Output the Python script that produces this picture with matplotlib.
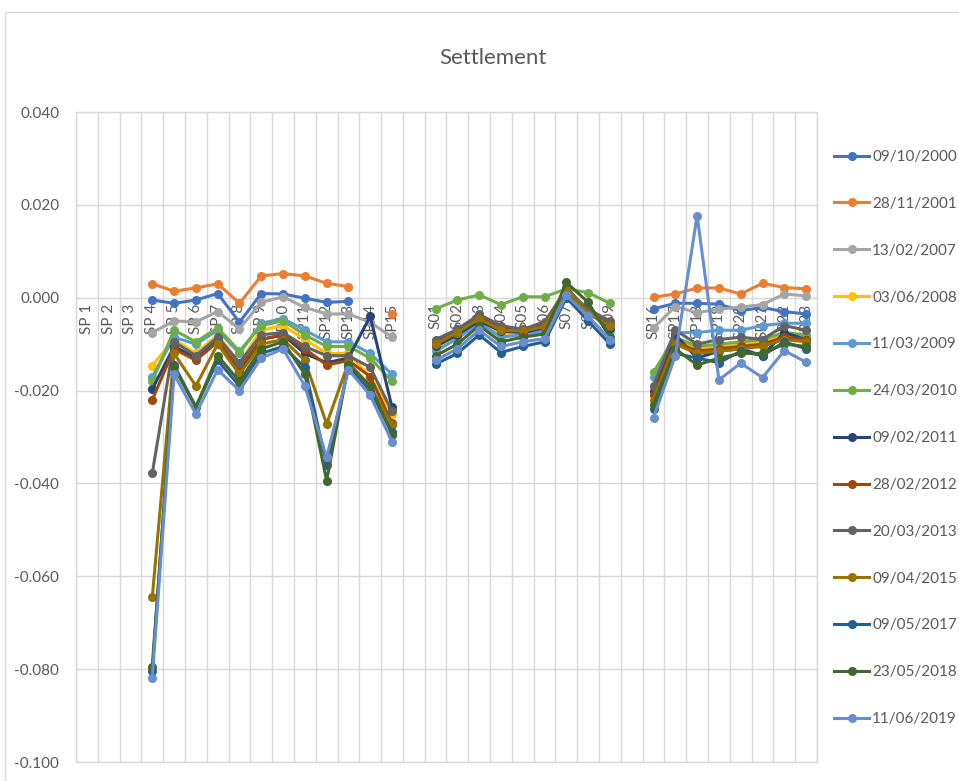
import numpy as np
import matplotlib
matplotlib.use('Agg')
import matplotlib.pyplot as plt
from matplotlib.patches import Rectangle
from matplotlib.ticker import FuncFormatter

plt.rcParams['font.family'] = ['Lato', 'DejaVu Sans']

# --- data ---
categories = ['SP 1', 'SP 2', 'SP 3', 'SP 4', 'SP 5', 'SP 6', 'SP 7', 'SP 8', 'SP 9',
              'SP10', 'SP11', 'SP12', 'SP13', 'SP14', 'SP15', '',
              'S01', 'S02', 'S03', 'S04', 'S05', 'S06', 'S07', 'S08', 'S09', '',
              'SP16', 'SP17', 'SP18', 'SP19', 'SP20', 'SP21', 'SP22', 'SP23']

dates = ['09/10/2000', '28/11/2001', '13/02/2007', '03/06/2008', '11/03/2009',
         '24/03/2010', '09/02/2011', '28/02/2012', '20/03/2013', '09/04/2015',
         '09/05/2017', '23/05/2018', '11/06/2019']

colors = ['#4472C4', '#ED7D31', '#A5A5A5', '#FFC000', '#5B9BD5', '#70AD47',
          '#264478', '#9E480E', '#636363', '#997300', '#255E91', '#43682B', '#698ED0']

n = None
s_2000 = [n, n, n, -0.0005, -0.0012, -0.0005, 0.0009, -0.0053, 0.0009, 0.0008, -0.0001, -0.0010, -0.0008, n, n, n,
          n, n, n, n, n, n, n, n, n, n,
          -0.0024, -0.0012, -0.0012, -0.0014, -0.0028, -0.0021, -0.0030, -0.0035]
s_2001 = [n, n, n, 0.0030, 0.0014, 0.0021, 0.0030, -0.0012, 0.0047, 0.0052, 0.0047, 0.0031, 0.0024, n, -0.0035, n,
          n, n, n, n, n, n, n, n, n, n,
          0.0001, 0.0008, 0.0021, 0.0021, 0.0008, 0.0031, 0.0022, 0.0019]
s_2007 = [n, n, n, -0.0075, -0.0050, -0.0052, -0.0030, -0.0067, -0.0010, 0.0002, -0.0021, -0.0035, -0.0035, -0.0053, -0.0085, n,
          n, n, n, n, n, n, n, n, n, n,
          -0.0065, -0.0019, -0.0032, -0.0025, -0.0020, -0.0015, 0.0008, 0.0004]
s_2008 = [n, n, n, -0.0146, -0.0090, -0.0120, -0.0080, -0.0140, -0.0070, -0.0060, -0.0090, -0.0120, -0.0120, -0.0170, -0.0250, n,
          -0.0110, -0.0082, -0.0052, -0.0078, -0.0078, -0.0068, 0.0010, -0.0030, -0.0068, n,
          -0.0190, -0.0090, -0.0110, -0.0105, -0.0100, -0.0095, -0.0080, -0.0085]
s_2009 = [n, n, n, -0.0170, -0.0085, -0.0100, -0.0070, -0.0120, -0.0055, -0.0045, -0.0070, -0.0095, -0.0095, -0.0120, -0.0165, n,
          -0.0115, -0.0088, -0.0055, -0.0085, -0.0080, -0.0072, 0.0008, -0.0028, -0.0072, n,
          -0.0170, -0.0075, -0.0075, -0.0070, -0.0070, -0.0060, -0.0055, -0.0055]
s_2010 = [n, n, n, -0.0180, -0.0070, -0.0095, -0.0065, -0.0115, -0.0060, -0.0050, -0.0080, -0.0105, -0.0105, -0.0130, -0.0180, n,
          -0.0024, -0.0005, 0.0006, -0.0015, 0.0002, 0.0002, 0.0019, 0.0011, -0.0012, n,
          -0.0160, -0.0085, -0.0105, -0.0100, -0.0095, -0.0090, -0.0075, -0.0080]
s_2011 = [n, n, n, -0.0197, -0.0105, -0.0130, -0.0090, -0.0160, -0.0090, -0.0080, -0.0120, -0.0140, -0.0130, -0.0040, -0.0236, n,
          -0.0105, -0.0080, -0.0050, -0.0072, -0.0075, -0.0065, 0.0022, -0.0030, -0.0065, n,
          -0.0200, -0.0080, -0.0130, -0.0115, -0.0110, -0.0125, -0.0075, -0.0090]
s_2012 = [n, n, n, -0.0220, -0.0110, -0.0135, -0.0095, -0.0150, -0.0090, -0.0080, -0.0110, -0.0145, -0.0135, -0.0170, -0.0270, n,
          -0.0095, -0.0072, -0.0040, -0.0065, -0.0070, -0.0058, 0.0015, -0.0030, -0.0055, n,
          -0.0210, -0.0095, -0.0115, -0.0110, -0.0105, -0.0100, -0.0085, -0.0090]
s_2013 = [n, n, n, -0.0378, -0.0095, -0.0125, -0.0085, -0.0140, -0.0080, -0.0075, -0.0105, -0.0125, -0.0125, -0.0150, -0.0245, n,
          -0.0090, -0.0068, -0.0036, -0.0060, -0.0068, -0.0052, 0.0018, -0.0025, -0.0050, n,
          -0.0190, -0.0070, -0.0100, -0.0090, -0.0085, -0.0090, -0.0060, -0.0070]
s_2015 = [n, n, n, -0.0645, -0.0120, -0.0190, -0.0100, -0.0165, -0.0100, -0.0090, -0.0135, -0.0272, -0.0140, -0.0190, -0.0275, n,
          -0.0100, -0.0075, -0.0045, -0.0070, -0.0072, -0.0062, 0.0020, -0.0035, -0.0060, n,
          -0.0220, -0.0100, -0.0120, -0.0115, -0.0110, -0.0105, -0.0090, -0.0095]
s_2017 = [n, n, n, -0.0803, -0.0145, -0.0235, -0.0135, -0.0190, -0.0120, -0.0105, -0.0150, -0.0360, -0.0150, -0.0200, -0.0290, n,
          -0.0143, -0.0120, -0.0080, -0.0118, -0.0105, -0.0095, 0.0000, -0.0050, -0.0100, n,
          -0.0240, -0.0120, -0.0130, -0.0140, -0.0115, -0.0125, -0.0095, -0.0110]
s_2018 = [n, n, n, -0.0795, -0.0150, -0.0236, -0.0125, -0.0180, -0.0110, -0.0095, -0.0165, -0.0394, -0.0145, -0.0190, -0.0295, n,
          -0.0125, -0.0100, -0.0060, -0.0095, -0.0085, -0.0078, 0.0033, -0.0010, -0.0085, n,
          -0.0230, -0.0110, -0.0145, -0.0130, -0.0120, -0.0120, -0.0100, -0.0105]
s_2019 = [n, n, n, -0.0819, -0.0165, -0.0250, -0.0155, -0.0200, -0.0130, -0.0110, -0.0190, -0.0344, -0.0155, -0.0210, -0.0310, n,
          -0.0135, -0.0110, -0.0070, -0.0105, -0.0095, -0.0088, 0.0005, -0.0040, -0.0090, n,
          -0.0258, -0.0125, 0.0177, -0.0177, -0.0141, -0.0172, -0.0114, -0.0139]

series = [s_2000, s_2001, s_2007, s_2008, s_2009, s_2010, s_2011,
          s_2012, s_2013, s_2015, s_2017, s_2018, s_2019]

grid_c = '#D9D9D9'
text_c = '#595959'

fig = plt.figure(figsize=(9.59, 7.81), dpi=100)
ax = fig.add_axes([76 / 959, 19 / 781, 741 / 959, 650 / 781])

# move x axis to y=0 first (this resets ticks)
for s in ['top', 'left', 'right']:
    ax.spines[s].set_visible(False)
ax.spines['bottom'].set_position(('data', 0))
ax.spines['bottom'].set_color(grid_c)
ax.spines['bottom'].set_zorder(0.5)

x = np.arange(len(categories))
handles = []
for vals, lab, c in zip(series, dates, colors):
    y = np.array(vals, dtype=float)
    h, = ax.plot(x, y, color=c, lw=2.2, marker='o', ms=5.5, label=lab)
    handles.append(h)

ax.set_xlim(-0.5, len(categories) - 0.5)
ax.set_ylim(-0.1, 0.04)
ax.set_yticks(np.round(np.arange(-0.1, 0.041, 0.02), 3))
ax.yaxis.set_major_formatter(FuncFormatter(lambda v, p: f'{abs(v):.3f}' if abs(v) < 1e-9 else f'{v:.3f}'))

ax.set_xticks(x)
ax.set_xticklabels(categories, fontsize=11, color=text_c)
ax.set_xticks(np.arange(-0.5, len(categories), 1), minor=True)

ax.grid(which='minor', axis='x', color=grid_c, lw=1)
ax.grid(which='major', axis='y', color=grid_c, lw=1)
ax.set_axisbelow(True)
ax.tick_params(axis='x', which='both', length=0, pad=4, labelrotation=90)
ax.tick_params(axis='y', length=0, pad=12, labelsize=11, labelcolor=text_c)

ax.add_patch(Rectangle((0, 0), 1, 1, transform=ax.transAxes, fill=False,
                       edgecolor=grid_c, lw=1, zorder=0.5, clip_on=False))

# chart area border
fig.patches.append(Rectangle((5 / 959, -0.01), 1.0, 1 - 12 / 781 + 0.01, transform=fig.transFigure,
                             fill=False, edgecolor=grid_c, lw=1))

fig.text(493 / 959, 1 - 58 / 781, 'Settlement', ha='center', va='center', fontsize=16, color=text_c)

fig.legend(handles=handles, loc='upper left', bbox_to_anchor=(834 / 959, 1 - 150 / 781),
           frameon=False, fontsize=11, labelspacing=2.15, handlelength=2.3, handletextpad=0.2,
           borderaxespad=0, borderpad=0, labelcolor=text_c)

plt.savefig('out.png', dpi=100)
